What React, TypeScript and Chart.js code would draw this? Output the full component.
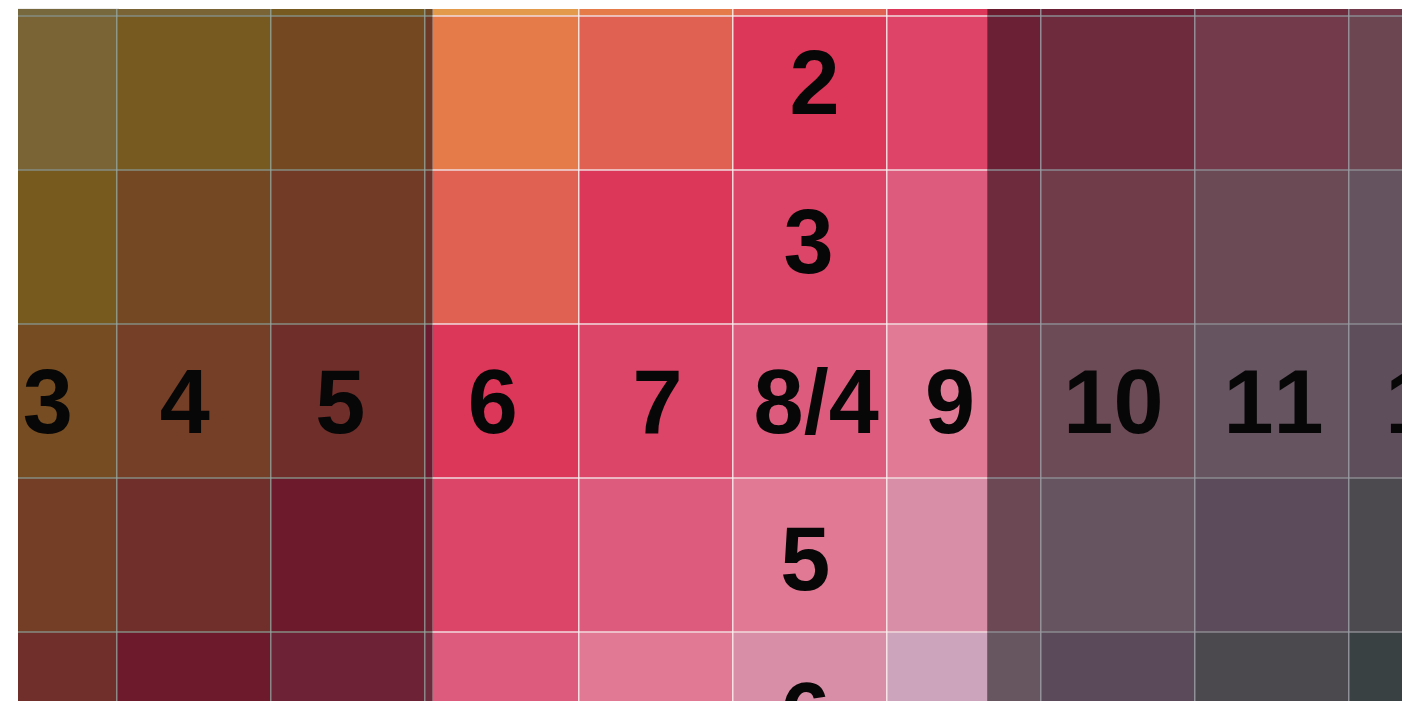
import React, { useEffect, useRef } from "react";
import { Chart, registerables } from "chart.js";

Chart.register(...registerables);

// Edges of the colour chips along the x axis (column units; grid lines fall on the integers)
const columnEdges = [0, 1, 2, 3, 3.05, 4, 5, 6, 6.65, 7, 8, 9, 10];
// Zone of each chip segment (left shaded, centre lit, right shaded)
const segmentZones = ["left", "left", "left", "left", "center", "center", "center", "center", "right", "right", "right", "right"];

// Row starts (row r spans r..r+1; grid lines on the integers)
const rowStarts = [-1, 0, 1, 2, 3, 4];

// Chip colours, one array per row, one entry per segment
const rowTop = ["#77693d", "#7a6334", "#775a1f", "#6f4826", "#e39a4a", "#e47b48", "#e06152", "#dc3659", "#6a1c2e", "#6b2035", "#6e2b3e", "#723a4a"];
const rowOne = ["#7a6334", "#775a1f", "#744821", "#6e3826", "#e47b48", "#e06152", "#dc3659", "#dd4467", "#6b2035", "#6e2b3e", "#723a4a", "#6c4752"];
const rowTwo = ["#775a1d", "#744822", "#723b26", "#6d3229", "#e06152", "#dc3659", "#dc4568", "#dd5c7e", "#6e2b3e", "#703c49", "#6c4a55", "#665360"];
const rowThree = ["#764c22", "#743e27", "#6f2e2a", "#6b1c30", "#dc3659", "#dc4468", "#dd5c7e", "#e17b95", "#703c4a", "#6d4b56", "#665460", "#5e4e5c"];
const rowFour = ["#743d25", "#702f2b", "#6e1a2d", "#6b2434", "#dc4568", "#dd5c7e", "#e17994", "#d98ea8", "#6b4853", "#665561", "#5c4b5a", "#4c494f"];
const rowFive = ["#702f2b", "#6e1a2d", "#6d2236", "#6c2c3d", "#dd5c7e", "#e17994", "#d98ea8", "#cca5bd", "#675560", "#5b4b5a", "#4b484e", "#3a4143"];
const rowColors = [rowTop, rowOne, rowTwo, rowThree, rowFour, rowFive];

// Grid line positions
const gridColumns = [1, 2, 3, 4, 5, 6, 7, 8, 9];
const gridRows = [0, 1, 2, 3, 4];

// Chip numbers and where they sit (data units)
const chipLabels = ["2", "3", "3", "4", "5", "6", "7", "8/4", "9", "10", "11", "12", "5", "6"];
const labelX = [5.53, 5.49, 0.55, 1.44, 2.45, 3.44, 4.51, 5.54, 6.41, 7.47, 8.51, 9.56, 5.47, 5.47];
const labelY = [0.43, 1.46, 2.5, 2.5, 2.5, 2.5, 2.5, 2.5, 2.5, 2.5, 2.5, 2.5, 3.52, 4.53];

const zoneLineColors: Record<string, string> = {
  left: "#868d82",
  center: "#f1d9dc",
  right: "#8b8a90",
};

const vLineColor = (v: number) => {
  if (v <= 3) return "rgba(150,170,165,0.75)";
  if (v <= 6) return "rgba(255,242,242,0.85)";
  return "rgba(155,158,165,0.85)";
};

const chipLabelPlugin = {
  id: "chipLabels",
  afterDraw(chart: any) {
    const { ctx, chartArea, scales } = chart;
    const size = 90;
    ctx.save();
    ctx.beginPath();
    ctx.rect(chartArea.left, chartArea.top, chartArea.right - chartArea.left, chartArea.bottom - chartArea.top);
    ctx.clip();
    ctx.font = `bold ${size}px "Liberation Sans", Arial, sans-serif`;
    if ("fontKerning" in ctx) (ctx as any).fontKerning = "none";
    ctx.fillStyle = "#070707";
    ctx.textAlign = "center";
    ctx.textBaseline = "alphabetic";
    chipLabels.forEach((t, i) => {
      const x = scales.x.getPixelForValue(labelX[i]);
      const y = scales.y.getPixelForValue(labelY[i]);
      ctx.fillText(t, x, y + size * 0.358);
    });
    ctx.restore();
  },
};

export default function App() {
  const canvasRef = useRef<HTMLCanvasElement | null>(null);

  useEffect(() => {
    if (!canvasRef.current) return;
    const datasets = segmentZones.map((zone, s) => ({
      label: `segment ${s}`,
      data: rowStarts.map((r) => ({ y: r + 0.5, x: [columnEdges[s], columnEdges[s + 1]] })),
      backgroundColor: rowColors.map((row) => row[s]),
      borderColor: zoneLineColors[zone],
      borderWidth: { top: 1, bottom: 1, left: 0, right: 0 },
      borderSkipped: false,
    }));

    const chart = new Chart(canvasRef.current, {
      type: "bar",
      data: { datasets: datasets as any },
      plugins: [chipLabelPlugin],
      options: {
        animation: false,
        responsive: false,
        indexAxis: "y",
        layout: { padding: { left: 10, top: 1, right: 2, bottom: 7 } },
        datasets: {
          bar: { grouped: false, barPercentage: 1, categoryPercentage: 1 },
        },
        plugins: {
          legend: { display: false },
          tooltip: { enabled: false },
          title: { display: false },
        },
        scales: {
          x: {
            type: "linear",
            min: 0.3571,
            max: 9.3442,
            offset: false,
            stacked: false,
            afterBuildTicks: (axis: any) => {
              axis.ticks = gridColumns.map((v) => ({ value: v }));
            },
            ticks: { display: false },
            border: { display: false },
            grid: {
              drawTicks: false,
              offset: false,
              lineWidth: 1.5,
              z: 1,
              color: (ctx: any) => vLineColor(ctx.tick ? ctx.tick.value : 0),
            },
          },
          y: {
            type: "linear",
            reverse: true,
            offset: false,
            min: -0.04545,
            max: 4.44805,
            afterBuildTicks: (axis: any) => {
              axis.ticks = gridRows.map((v) => ({ value: v }));
            },
            ticks: { display: false },
            border: { display: false },
            grid: { display: false, drawTicks: false, offset: false },
          },
        },
      } as any,
    });
    return () => chart.destroy();
  }, []);

  return (
    <div style={{ position: "relative", width: 1396, height: 700 }}>
      <canvas ref={canvasRef} width={1396} height={700} style={{ display: "block", position: "relative" }} />
      <div style={{ position: "absolute", left: 10, top: -8, width: 101, height: 9, background: "#eeeeee", zIndex: 2 }} />
    </div>
  );
}
